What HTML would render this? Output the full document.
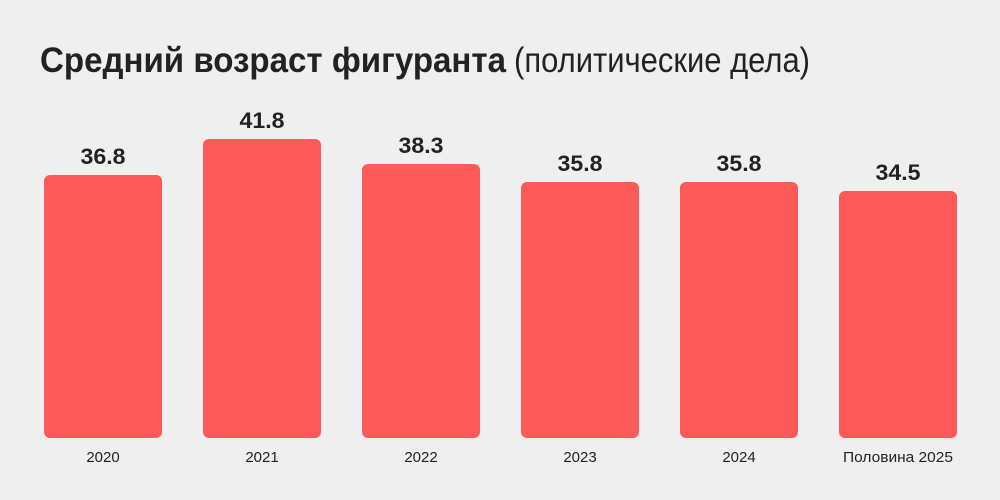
<!DOCTYPE html>
<html><head><meta charset="utf-8"><style>
html,body{margin:0;padding:0;background:#efefef;}
svg{display:block}
</style></head><body>
<svg width="1000" height="500" xmlns="http://www.w3.org/2000/svg">
<rect width="1000" height="500" fill="#efefef"/>
<text x="40" y="72" font-family="Liberation Sans, sans-serif" font-size="35" fill="#222"><tspan font-weight="bold" textLength="466" lengthAdjust="spacingAndGlyphs">Средний возраст фигуранта</tspan><tspan dx="8" textLength="296" lengthAdjust="spacingAndGlyphs">(политические дела)</tspan></text>
<g fill="#ff5a5a">
<rect x="44" y="175" width="118" height="263" rx="6"/>
<rect x="203" y="139" width="118" height="299" rx="6"/>
<rect x="362" y="164" width="118" height="274" rx="6"/>
<rect x="521" y="182" width="118" height="256" rx="6"/>
<rect x="680" y="182" width="118" height="256" rx="6"/>
<rect x="839" y="191" width="118" height="247" rx="6"/>
</g>
<g font-family="Liberation Sans, sans-serif" font-size="22" font-weight="bold" fill="#222" text-anchor="middle">
<text x="103" y="164" textLength="45" lengthAdjust="spacingAndGlyphs">36.8</text>
<text x="262" y="128" textLength="45" lengthAdjust="spacingAndGlyphs">41.8</text>
<text x="421" y="153" textLength="45" lengthAdjust="spacingAndGlyphs">38.3</text>
<text x="580" y="171" textLength="45" lengthAdjust="spacingAndGlyphs">35.8</text>
<text x="739" y="171" textLength="45" lengthAdjust="spacingAndGlyphs">35.8</text>
<text x="898" y="180" textLength="45" lengthAdjust="spacingAndGlyphs">34.5</text>
</g>
<g font-family="Liberation Sans, sans-serif" font-size="15" fill="#222" text-anchor="middle">
<text x="103" y="462">2020</text>
<text x="262" y="462">2021</text>
<text x="421" y="462">2022</text>
<text x="580" y="462">2023</text>
<text x="739" y="462">2024</text>
<text x="898" y="462" textLength="110" lengthAdjust="spacingAndGlyphs">Половина 2025</text>
</g>
</svg>
</body></html>
